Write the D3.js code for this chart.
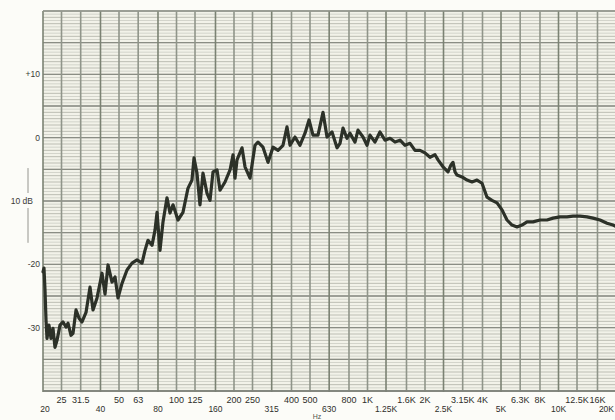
<!DOCTYPE html>
<html>
<head>
<meta charset="utf-8">
<script src="https://cdn.jsdelivr.net/npm/d3@7"></script>
<style>
  html, body { margin: 0; padding: 0; background: #fcfcf8; }
  svg { display: block; font-family: "Liberation Sans", Arial, sans-serif; }
</style>
</head>
<body>
<svg id="chart" width="615" height="420"></svg>
<script>
// Frequency response trace: frequency in Hz, level in dB
const freqHz = [20.0, 20.24, 20.49, 20.74, 20.99, 21.5, 22.03, 22.56, 23.11, 23.68, 24.55,
  25.46, 26.39, 27.04, 28.03, 28.72, 29.78, 30.88, 32.01, 33.59, 35.25, 36.55, 38.36,
  40.74, 42.24, 43.79, 45.96, 47.66, 49.41, 51.84, 55.06, 58.48, 62.13, 65.98, 68.4,
  70.93, 74.44, 77.18, 79.07, 81.96, 84.98, 89.17, 92.46, 95.87, 101.8, 108.1, 114.8,
  120.5, 123.5, 128.0, 132.7, 137.6, 144.5, 149.8, 155.3, 163.0, 169.0, 179.5, 190.7,
  197.7, 202.4, 207.4, 220.3, 228.4, 242.6, 257.6, 267.1, 283.7, 301.4, 320.1, 340.0,
  361.1, 378.9, 393.0, 417.3, 442.7, 470.8, 494.1, 518.4, 550.6, 584.8, 613.8, 651.9,
  692.4, 717.9, 744.4, 781.2, 809.7, 860.0, 891.7, 947.2, 994.1, 1030, 1094, 1162, 1235,
  1312, 1393, 1480, 1572, 1670, 1773, 1883, 2000, 2124, 2256, 2340, 2485, 2639, 2736,
  2803, 2872, 2942, 3125, 3319, 3525, 3744, 3977, 4224, 4486, 4766, 5061, 5375, 5709,
  6065, 6440, 6840, 7354, 8000, 8705, 9359, 10182, 11079, 11912, 12958, 14099, 15158,
  16492, 17946, 19293, 20000];
const levelDb = [-21.2, -20.6, -24.1, -28.8, -31.7, -29.6, -31.7, -30.1, -33.1, -32.0, -29.6,
  -29.1, -29.9, -29.3, -31.2, -30.9, -27.2, -28.5, -29.1, -27.6, -23.6, -27.2, -25.3,
  -21.4, -24.7, -20.1, -22.8, -22.0, -25.3, -23.0, -20.9, -19.8, -19.3, -19.8, -17.8,
  -16.2, -17.0, -14.6, -11.8, -17.8, -13.3, -9.5, -11.9, -10.6, -13.0, -11.8, -8.0,
  -6.7, -3.2, -5.6, -10.6, -5.6, -8.8, -9.9, -5.4, -5.1, -8.3, -7.0, -5.1,
  -2.7, -6.4, -3.5, -1.6, -4.6, -6.4, -1.2, -0.7, -1.5, -3.9, -1.5, -2.0,
  -1.2, 1.7, -1.2, 0.1, -1.2, 0.7, 2.8, 0.4, 0.4, 4.0, 0.1, 0.9,
  -1.6, -0.9, 1.5, -0.1, 0.7, -0.7, 1.2, 0.1, -1.2, 0.4, -0.7, 0.9, -0.4,
  -0.1, -0.7, -0.4, -1.2, -0.9, -2.0, -2.0, -2.4, -3.1, -2.7, -3.5, -4.6, -5.4, -4.3,
  -3.9, -5.4, -5.9, -6.2, -6.7, -7.0, -6.7, -7.2, -9.4, -9.9, -10.3, -11.4, -13.0, -13.8,
  -14.1, -13.8, -13.3, -13.3, -13.0, -13.0, -12.7, -12.5, -12.5, -12.4, -12.4, -12.5, -12.7,
  -13.0, -13.5, -13.8, -14.0];

// Third-octave grid and its labels (two staggered rows)
const gridFreqs = [20, 25, 31.5, 40, 50, 63, 80, 100, 125, 160, 200, 250, 315, 400, 500, 630,
  800, 1000, 1250, 1600, 2000, 2500, 3150, 4000, 5000, 6300, 8000, 10000, 12500, 16000, 20000];
const upperTickFreqs = [25, 31.5, 50, 63, 100, 125, 200, 250, 400, 500, 800, 1000, 1600, 2000,
  3150, 4000, 6300, 8000, 12500, 16000];
const upperTickLabels = ["25", "31.5", "50", "63", "100", "125", "200", "250", "400", "500",
  "800", "1K", "1.6K", "2K", "3.15K", "4K", "6.3K", "8K", "12.5K", "16K"];
const lowerTickFreqs = [20, 40, 80, 160, 315, 630, 1250, 2500, 5000, 10000, 20000];
const lowerTickLabels = ["20", "40", "80", "160", "315", "630", "1.25K", "2.5K", "5K", "10K", "20K"];

// Level axis
const levelTickValues = [10, 0, -10, -20, -30];
const levelTickLabels = ["+10", "0", "10 dB", "-20", "-30"];
const scaleBarDb = [-4.8, -16.6];

const svg = d3.select("#chart");
const W = 615;
const x = d3.scaleLog().domain([20, 20000]).range([43, 616]);
const y = d3.scaleLinear().domain([-40, 20]).range([391, 11]);

// paper
svg.append("rect")
  .attr("x", x(20)).attr("y", y(20))
  .attr("width", x(20000) - x(20)).attr("height", y(-40) - y(20))
  .attr("fill", "#f2f2e9");

const grid = svg.append("g");

// fine level rulings every 0.5 dB
const fineDb = d3.range(-40, 20.01, 0.5);
grid.selectAll("line.fine").data(fineDb).join("line")
  .attr("class", "fine")
  .attr("x1", x(20)).attr("x2", x(20000))
  .attr("y1", d => y(d)).attr("y2", d => y(d))
  .attr("stroke", d => (Math.abs(d % 1) < 1e-6) ? "#b5b7ad" : "#cfd0c7")
  .attr("stroke-width", 0.9);

// major level rulings every 5 dB
grid.selectAll("line.major").data(d3.range(-40, 20.01, 5)).join("line")
  .attr("class", "major")
  .attr("x1", x(20)).attr("x2", x(20000))
  .attr("y1", d => y(d)).attr("y2", d => y(d))
  .attr("stroke", "#8a8d84")
  .attr("stroke-width", 1.3);

// third-octave verticals
grid.selectAll("line.vert").data(gridFreqs).join("line")
  .attr("class", "vert")
  .attr("x1", d => x(d)).attr("x2", d => x(d))
  .attr("y1", y(20)).attr("y2", y(-40) + 1)
  .attr("stroke", (d, i) => i % 3 === 0 ? "#7b8273" : "#90958a")
  .attr("stroke-width", 1.6);

// frame
svg.append("line")
  .attr("x1", x(20)).attr("x2", x(20000)).attr("y1", y(20)).attr("y2", y(20))
  .attr("stroke", "#9a9d94").attr("stroke-width", 1.2);
svg.append("line")
  .attr("x1", x(20)).attr("x2", x(20000)).attr("y1", y(-40)).attr("y2", y(-40))
  .attr("stroke", "#7d8078").attr("stroke-width", 1.4);

// response trace
const line = d3.line()
  .x((d, i) => x(freqHz[i]))
  .y(d => y(d))
  .curve(d3.curveLinear);

svg.append("path")
  .datum(levelDb)
  .attr("d", line)
  .attr("fill", "none")
  .attr("stroke", "#2c3128")
  .attr("stroke-width", 3.2)
  .attr("stroke-linejoin", "round")
  .attr("stroke-linecap", "round");

// level labels
svg.selectAll("text.ylab").data(levelTickValues).join("text")
  .attr("class", "ylab")
  .attr("x", (d, i) => levelTickLabels[i] === "10 dB" ? 33 : 40)
  .attr("y", d => y(d) + 3)
  .attr("text-anchor", "end")
  .attr("font-size", 8.5)
  .attr("fill", "#3a3a36")
  .text((d, i) => levelTickLabels[i]);

// 10 dB scale bar
const barX = 28;
const midY = y(-10);
svg.append("line")
  .attr("x1", barX).attr("x2", barX)
  .attr("y1", y(scaleBarDb[0])).attr("y2", midY - 8)
  .attr("stroke", "#8a8a84").attr("stroke-width", 0.9);
svg.append("line")
  .attr("x1", barX).attr("x2", barX)
  .attr("y1", midY + 7).attr("y2", y(scaleBarDb[1]))
  .attr("stroke", "#8a8a84").attr("stroke-width", 0.9);

// frequency labels
svg.selectAll("text.xup").data(upperTickFreqs).join("text")
  .attr("class", "xup")
  .attr("x", d => x(d))
  .attr("y", 403)
  .attr("text-anchor", "middle")
  .attr("font-size", 9)
  .attr("fill", "#2e2e2a")
  .text((d, i) => upperTickLabels[i]);

// lower row: the last label is pulled inside the right edge
const nLow = lowerTickFreqs.length;
svg.selectAll("text.xlow").data(lowerTickFreqs).join("text")
  .attr("class", "xlow")
  .attr("x", (d, i) => i === 0 ? x(d) + 2 : (i === nLow - 1 ? W - 1 : x(d)))
  .attr("y", 412)
  .attr("text-anchor", (d, i) => i === nLow - 1 ? "end" : "middle")
  .attr("font-size", 8.5)
  .attr("fill", "#2e2e2a")
  .text((d, i) => lowerTickLabels[i]);

svg.append("text")
  .attr("x", 317).attr("y", 419)
  .attr("text-anchor", "middle")
  .attr("font-size", 7)
  .attr("fill", "#55554f")
  .text("Hz");
</script>
</body>
</html>
